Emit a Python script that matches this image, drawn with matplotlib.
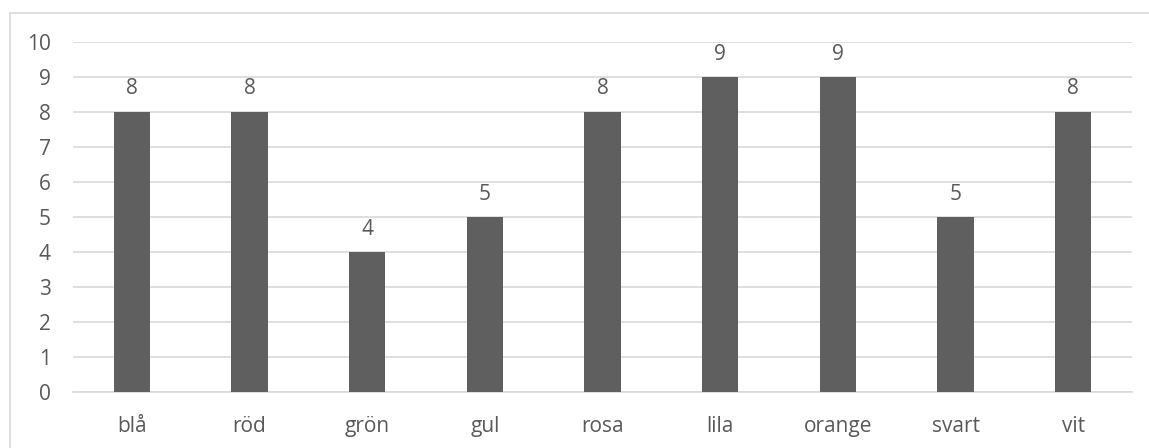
import matplotlib.pyplot as plt
from matplotlib.patches import Rectangle

categories = ['blå', 'röd', 'grön', 'gul', 'rosa', 'lila', 'orange', 'svart', 'vit']
values = [8, 8, 4, 5, 8, 9, 9, 5, 8]
y_ticks = list(range(0, 11))

TEXT = '#595959'
BAR = '#5f5f5f'
GRID = '#d9d9d9'

plt.rcParams['font.family'] = ['Open Sans', 'DejaVu Sans']

fig = plt.figure(figsize=(11.49, 4.48), dpi=100)
ax = fig.add_axes([73 / 1149, 1 - 392 / 448, (1132 - 73) / 1149, 350 / 448])

# outer chart border, cut off at the right and bottom edge
fig.patches.append(Rectangle((10 / 1149, -0.05), 1.1, 1 - 13 / 448 + 0.05,
                             transform=fig.transFigure, fill=False,
                             edgecolor=GRID, linewidth=1.2))

x = list(range(len(categories)))
bars = ax.bar(x, values, width=0.31, color=BAR, zorder=3)

for xi, v in zip(x, values):
    ax.annotate(str(v), (xi, v), xytext=(0, 9), textcoords='offset points',
                ha='center', va='bottom', fontsize=15, color=TEXT)

ax.set_xlim(-0.5, len(categories) - 0.5)
ax.set_ylim(0, 10)
ax.set_yticks(y_ticks)
ax.set_xticks(x)
ax.set_xticklabels(categories)
ax.tick_params(axis='both', length=0, labelsize=15, labelcolor=TEXT)
ax.tick_params(axis='y', pad=16)
ax.tick_params(axis='x', pad=17)

ax.grid(axis='y', color=GRID, linewidth=1.2, zorder=0)
for side in ['top', 'right', 'left']:
    ax.spines[side].set_visible(False)
ax.spines['bottom'].set_color(GRID)
ax.spines['bottom'].set_linewidth(1.2)

fig.savefig('out.png', dpi=100)
